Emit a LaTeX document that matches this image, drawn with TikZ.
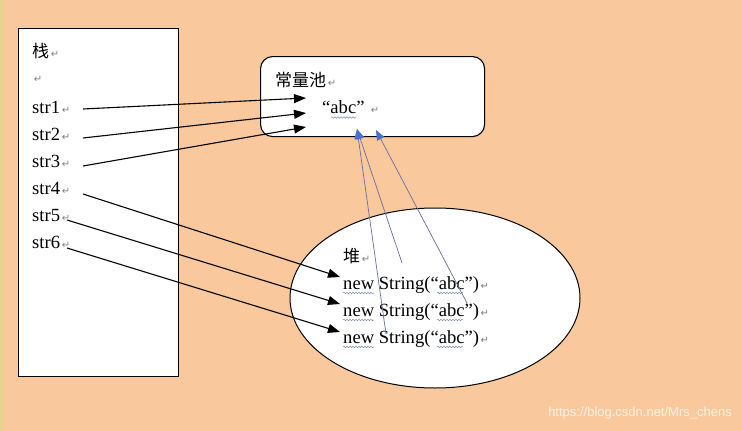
\documentclass[tikz,border=0pt]{standalone}
\usepackage{fontspec}
\setmainfont{Liberation Serif}
\setsansfont{Liberation Sans}
\newfontfamily\cjk{Noto Sans CJK SC}
\newfontfamily\symf{DejaVu Sans}
\usetikzlibrary{arrows.meta,shapes.geometric,decorations.pathmorphing}
\definecolor{bg}{HTML}{F9C89C}
\definecolor{strip}{HTML}{E6D48C}
\definecolor{bluetip}{HTML}{4A72C8}
\definecolor{blueline}{HTML}{6A6F9A}
\definecolor{squig}{HTML}{8090B0}
\newcommand\rt{{\symf\color{gray}\fontsize{10}{10}\selectfont\,↵}}
\begin{document}
\begin{tikzpicture}[x=1pt,y=-1pt,
  txt/.style={anchor=base west,inner sep=0pt,font=\fontsize{18.6}{18.6}\selectfont},
  cn/.style={anchor=base west,inner sep=0pt,font=\cjk\fontsize{17}{17}\selectfont},
  blk/.style={draw=black,line width=1.1pt,-{Triangle[length=12pt,width=9pt]}},
  blu/.style={draw=blueline,line width=0.7pt,-{Triangle[length=10pt,width=8pt,color=bluetip]}},
  sq/.style={draw=squig,line width=0.5pt,decorate,decoration={snake,amplitude=0.8pt,segment length=3pt}}]
\useasboundingbox (0,0) rectangle (742,431);
\fill[bg] (0,0) rectangle (742,431);
\fill[strip] (0,0) rectangle (3,431);

% boxes
\node (stack) [draw,fill=white,line width=1.1pt,inner sep=0pt,minimum width=160pt,minimum height=348pt,anchor=north west] at (18,28) {};
\node (pool) [draw,fill=white,line width=1.1pt,rounded corners=12pt,inner sep=0pt,minimum width=224pt,minimum height=80pt,anchor=north west] at (260,56) {};
\node (heap) [ellipse,draw,fill=white,line width=1pt,inner sep=0pt,minimum width=290pt,minimum height=180pt] at (435,298) {};

% stack texts
\node[cn] (zhan) at (32,57) {栈\rt};
\node[txt] (blank) at (32,82) {\rt};
\node[txt] (s1) at (32,113) {str1\rt};
\node[txt] (s2) at (32,140) {str2\rt};
\node[txt] (s3) at (32,167) {str3\rt};
\node[txt] (s4) at (32,194) {str4\rt};
\node[txt] (s5) at (32,221) {str5\rt};
\node[txt] (s6) at (32,248) {str6\rt};

% pool texts
\node[cn] (cl) at (275,86) {常量池\rt};
\node[txt] (abc) at (322,113) {“abc”\ \rt};
\draw[sq] (331,117.5) -- (356,117.5);

% heap texts
\node[cn] (dui) at (343,262) {堆\rt};
\node[txt] (n1) at (343,289) {new String(“abc”)\rt};
\node[txt] (n2) at (343,316) {new String(“abc”)\rt};
\node[txt] (n3) at (343,343) {new String(“abc”)\rt};
\foreach \y in {293,320,347}{
  \draw[sq] (343,\y) -- (374,\y);
  \draw[sq] (437,\y) -- (463,\y);
}

% connector end points
\coordinate (a1) at (83,109);
\coordinate (a2) at (83,138);
\coordinate (a3) at (83,166);
\coordinate (a4) at (83,194);
\coordinate (a5) at (67,220);
\coordinate (a6) at (67,248);
\coordinate (p1) at (306,98);
\coordinate (p2) at (306,113);
\coordinate (p3) at (306,127);
\coordinate (h1) at (340,277);
\coordinate (h2) at (340,304);
\coordinate (h3) at (340,332);
\coordinate (t1) at (357,129);
\coordinate (t2) at (376,130);
\coordinate (b1) at (402,263);
\coordinate (b2) at (386,334);
\coordinate (b3) at (467,303);

\draw[blk] (a1) -- (p1);
\draw[blk] (a2) -- (p2);
\draw[blk] (a3) -- (p3);
\draw[blk] (a4) -- (h1);
\draw[blk] (a5) -- (h2);
\draw[blk] (a6) -- (h3);

\draw[blu] (b1) -- (t1);
\draw[blu] (b2) -- (t1);
\draw[blu] (b3) -- (t2);

% watermark
\node (wm) [anchor=base east,inner sep=0pt,font=\sffamily\fontsize{13}{13}\selectfont,text=white,opacity=0.75] at (732,416) {https://blog.csdn.net/Mrs\_chens};
\end{tikzpicture}
\end{document}
